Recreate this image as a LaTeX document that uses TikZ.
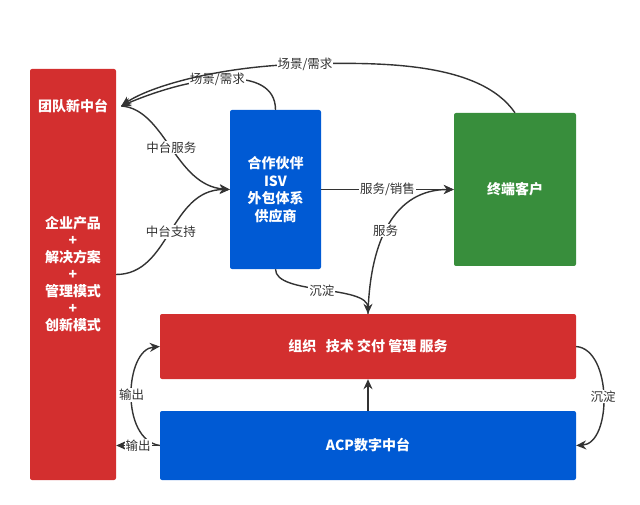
\documentclass[tikz,border=0pt]{standalone}
\usepackage{fontspec}
\setmainfont{Noto Sans CJK SC}
\usepackage{tikz}
\usetikzlibrary{arrows.meta}
\definecolor{boxred}{HTML}{D32F2F}
\definecolor{boxblue}{HTML}{005AD4}
\definecolor{boxgreen}{HTML}{388E3C}
\definecolor{linegray}{HTML}{333333}

\begin{document}
\begin{tikzpicture}[
        x=1pt, y=-1pt,
        box/.style={rectangle, rounded corners=2pt, text=white, align=center,
            font=\bfseries\fontsize{14}{17.5}\selectfont, inner sep=0pt},
        lbl/.style={fill=white, text=linegray, inner sep=1pt,
            font=\fontsize{12.5}{14}\selectfont},
        flow/.style={draw=linegray, line width=1.4pt, -{Stealth[length=10pt,width=9pt]}}
    ]
        \useasboundingbox (0,0) rectangle (640,505);

        \node (team) [box, fill=boxred, minimum width=86pt, minimum height=411pt,
            font=\bfseries\fontsize{14}{17}\selectfont] at (73,274.5)
            {企业产品\\+\\解决方案\\+\\管理模式\\+\\创新模式};
        \node (teamtitle) [box, text=white] at (73,106) {团队新中台};
        \node (partner) [box, fill=boxblue, minimum width=91pt, minimum height=159pt] at (275.5,189.5)
            {合作伙伴\\ISV\\外包体系\\供应商};
        \node (client) [box, fill=boxgreen, minimum width=122pt, minimum height=153pt] at (515,189.5)
            {终端客户};
        \node (org) [box, fill=boxred, minimum width=416pt, minimum height=65pt] at (368,346.5)
            {组织\ \ \ 技术\ 交付\ 管理\ 服务};
        \node (acp) [box, fill=boxblue, minimum width=416pt, minimum height=69pt] at (368,445.5)
            {ACP数字中台};

        \coordinate (tt) at ([xshift=5pt]team.east |- teamtitle);
        \coordinate (bend) at (305,64);

        \path[flow]
            (tt) .. controls +(44,3) and +(-55,-4) .. node[lbl] {中台服务} (partner.west);
        \path[flow]
            (team.east) .. controls +(54,0) and +(-60,0) .. node[lbl] {中台支持} (partner.west);
        \path[flow]
            (partner.east) -- node[lbl] {服务/销售} (client.west);
        \path[flow]
            (partner.south) .. controls +(0,26) and +(0,-29) .. node[lbl] {沉淀} (org.north);
        \path[flow]
            (org.north) .. controls +(2,-74) and +(-59,0) .. node[lbl, pos=0.45] {服务} (client.west);
        \path[flow]
            (partner.north) .. controls +(0,-45) and +(75,-32) .. node[lbl, pos=0.55] {场景/需求} (tt);
        \path[flow]
            (client.north) .. controls +(-35,-51) and +(75,-2) .. (bend) node[lbl] {场景/需求}
            .. controls +(-85,2) and +(29,-20) .. (tt);
        \path[flow]
            (acp.west) .. controls +(-40,-6) and +(-35,3) .. node[lbl] {输出} (org.west);
        \path[flow]
            (acp.west) -- node[lbl] {输出} (team.east |- acp.west);
        \path[flow]
            (org.east) .. controls +(36,3) and +(36,-2) .. node[lbl] {沉淀} (acp.east);
        \path[flow]
            (acp.north) -- (org.south);
    \end{tikzpicture}
\end{document}
